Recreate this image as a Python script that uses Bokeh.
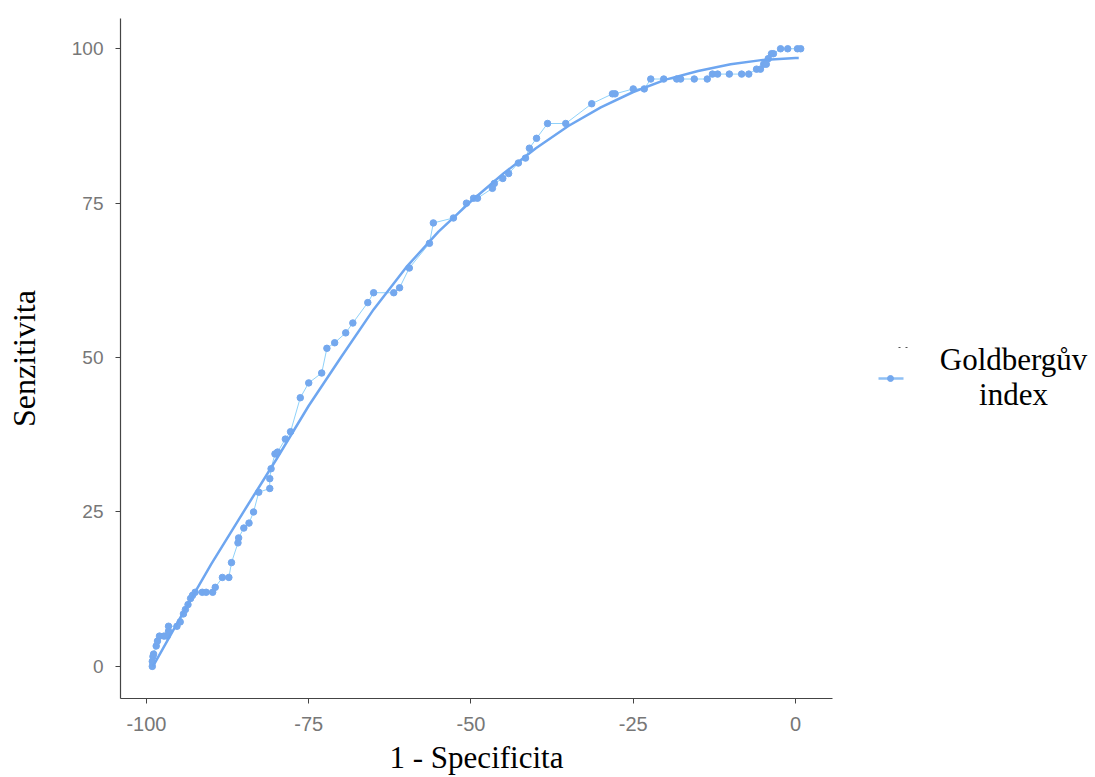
from bokeh.plotting import figure
from bokeh.layouts import row
from bokeh.models import Range1d, FixedTicker
from bokeh.core.properties import value
from bokeh.embed import file_html
from bokeh.resources import INLINE

# ROC points (1 - Specificita, Senzitivita)
roc_x = [-99.1, -99.1, -99.0, -98.9, -98.5, -98.3, -98.0, -97.3, -96.8, -96.6, -96.6,
         -95.3, -94.8, -94.3, -94.0, -93.6, -93.2, -92.9, -92.5, -91.4, -90.8, -89.8,
         -89.4, -88.3, -87.3, -86.9, -85.9, -85.8, -85.0, -84.2, -83.5, -82.7, -81.0,
         -81.0, -80.8, -80.2, -79.8, -78.6, -77.8, -76.3, -75.0, -73.0, -72.2, -71.0,
         -69.3, -68.2, -65.9, -65.0, -61.9, -61.0, -59.5, -56.4, -55.8, -52.7, -50.7,
         -49.6, -49.0, -46.7, -46.4, -45.1, -44.2, -42.7, -41.6, -41.0, -39.9, -38.2,
         -35.4, -31.4, -28.2, -27.8, -25.0, -23.3, -22.3, -20.3, -18.3, -17.7, -15.6,
         -13.6, -12.8, -12.0, -10.2, -8.3, -7.2, -6.0, -5.4, -4.9, -4.5, -4.2, -3.7,
         -3.4, -2.3, -1.2, 0.3, 0.8]
roc_y = [0.0, 0.8, 1.6, 2.0, 3.3, 4.1, 4.9, 4.9, 4.9, 5.7, 6.5,
         6.5, 7.2, 8.5, 9.2, 10.0, 11.0, 11.5, 12.0, 12.0, 12.0, 12.0,
         12.8, 14.4, 14.4, 16.8, 20.0, 20.8, 22.4, 23.2, 25.0, 28.2, 28.8,
         30.4, 32.0, 34.4, 34.7, 36.8, 38.0, 43.5, 45.9, 47.5, 51.5, 52.4,
         54.0, 55.6, 58.9, 60.5, 60.5, 61.3, 64.5, 68.5, 71.8, 72.6, 75.0,
         75.8, 75.8, 77.4, 78.2, 79.0, 79.8, 81.5, 82.3, 83.9, 85.5, 87.9,
         87.9, 91.1, 92.7, 92.7, 93.5, 93.5, 95.1, 95.1, 95.1, 95.1, 95.1,
         95.1, 95.9, 95.9, 95.9, 95.9, 95.9, 96.7, 96.7, 97.5, 97.5, 98.4, 99.2,
         99.2, 100.0, 100.0, 100.0, 100.0]

# Smoothed curve
smooth_x = [-99, -95, -90, -85, -80, -75, -70, -65, -60, -55, -50, -45, -40,
            -35, -30, -25, -20, -15, -10, -5, 0, 0.5]
smooth_y = [0.0, 7.5, 16.6, 25.1, 33.5, 42.2, 50.1, 57.8, 64.6, 70.4, 75.3, 79.8, 83.9,
            87.5, 90.5, 93.0, 95.0, 96.4, 97.5, 98.2, 98.5, 98.5]

x_ticks = [-100, -75, -50, -25, 0]
x_tick_labels = ["-100", "-75", "-50", "-25", "0"]
y_ticks = [0, 25, 50, 75, 100]

legend_label_lines = ["Goldbergův", "index"]

serif = "Liberation Serif"
sans = "Liberation Sans"

H = 777
p = figure(width=858, height=H, title=None,
           x_range=Range1d(-104.0, 5.7), y_range=Range1d(-5.2, 104.9),
           toolbar_location=None, output_backend="svg",
           min_border_top=18, min_border_left=120, min_border_right=26,
           min_border_bottom=79)
p.grid.visible = False
p.outline_line_color = None
p.background_fill_color = "white"
p.border_fill_color = "white"

p.line(roc_x, roc_y, line_color="#8fd2fa", line_width=1)
p.scatter(roc_x, roc_y, size=6.5, fill_color="#74a8ee", line_color="#74a8ee")
p.line(smooth_x, smooth_y, line_color="#6ea6f0", line_width=2.5)

for ax in (p.xaxis[0], p.yaxis[0]):
    ax.axis_line_color = "#444444"
    ax.axis_line_width = 1.2
    ax.major_tick_line_color = "#444444"
    ax.major_tick_in = 0
    ax.major_tick_out = 5
    ax.minor_tick_line_color = None
    ax.major_label_text_color = "#777777"
    ax.major_label_text_font = sans
    ax.axis_label_text_font = serif
    ax.axis_label_text_font_style = "normal"
    ax.axis_label_text_color = "black"

xa = p.xaxis[0]
ya = p.yaxis[0]
xa.ticker = FixedTicker(ticks=x_ticks)
xa.major_label_overrides = {t: s for t, s in zip(x_ticks, x_tick_labels)}
ya.ticker = FixedTicker(ticks=y_ticks)
xa.major_label_text_font_size = "20px"
ya.major_label_text_font_size = "19px"
xa.axis_label = "1 - Specificita"
ya.axis_label = "Senzitivita"
xa.axis_label_text_font_size = "31px"
ya.axis_label_text_font_size = "32px"
xa.major_label_standoff = 13
ya.major_label_standoff = 12
xa.axis_label_standoff = 6
ya.axis_label_standoff = 27

# Legend panel: coordinates in pixels, measured from the top of the panel
LW = 237
leg = figure(frame_width=LW, frame_height=H, title=None,
             x_range=Range1d(0, LW), y_range=Range1d(0, H),
             toolbar_location=None, output_backend="svg",
             min_border=0, min_border_left=0, min_border_right=0,
             min_border_top=0, min_border_bottom=0,
             x_axis_type=None, y_axis_type=None)
leg.grid.visible = False
leg.outline_line_color = None

def fy(y):
    return H - y

leg.line([20, 45], [fy(360), fy(360)], line_color="#8fc0f5", line_width=2.5)
leg.scatter([32], [fy(360)], size=6, fill_color="#74a8ee", line_color="#74a8ee")
leg.line([40, 42], [fy(329), fy(329)], line_color="#555555", line_width=1)
leg.line([47, 49], [fy(329), fy(329)], line_color="#555555", line_width=1)
leg.text([155, 155], [fy(341), fy(376)], text=legend_label_lines,
         text_font=value(serif), text_font_size="31px", text_color="black",
         text_align="center", text_baseline="alphabetic")

layout = row(p, leg)
open("out.html", "w").write(file_html(layout, INLINE))
